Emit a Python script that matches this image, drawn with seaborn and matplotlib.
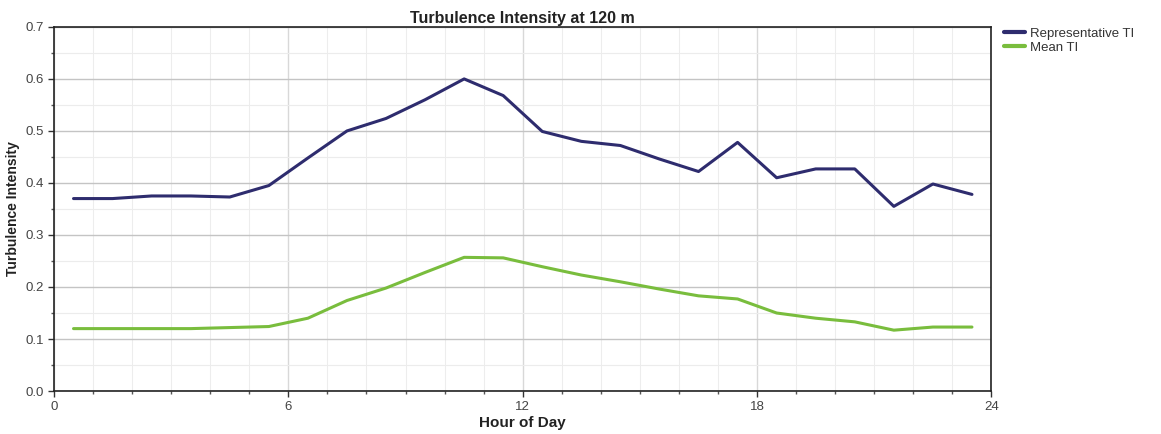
import numpy as np
import pandas as pd
import matplotlib
matplotlib.use("Agg")
import matplotlib.pyplot as plt
from matplotlib.ticker import MultipleLocator
import seaborn as sns

hours = [0.5, 1.5, 2.5, 3.5, 4.5, 5.5, 6.5, 7.5, 8.5, 9.5, 10.5, 11.5,
         12.5, 13.5, 14.5, 15.5, 16.5, 17.5, 18.5, 19.5, 20.5, 21.5, 22.5, 23.5]
representative_ti = [0.370, 0.370, 0.375, 0.375, 0.373, 0.395, 0.448, 0.500,
                     0.524, 0.560, 0.600, 0.568, 0.499, 0.480, 0.472, 0.446,
                     0.422, 0.478, 0.410, 0.427, 0.427, 0.355, 0.398, 0.378]
mean_ti = [0.120, 0.120, 0.120, 0.120, 0.122, 0.124, 0.140, 0.174,
           0.198, 0.228, 0.257, 0.256, 0.239, 0.223, 0.210, 0.196,
           0.183, 0.177, 0.150, 0.140, 0.133, 0.117, 0.123, 0.123]
series_names = ["Representative TI", "Mean TI"]
colors = ["#2e2c6e", "#79bd3d"]

df = pd.concat([
    pd.DataFrame({"Hour": hours, "TI": representative_ti, "Series": series_names[0]}),
    pd.DataFrame({"Hour": hours, "TI": mean_ti, "Series": series_names[1]}),
])

sns.set_style("white")
plt.rcParams["font.family"] = ["Liberation Sans Narrow", "Liberation Sans", "DejaVu Sans"]

fig = plt.figure(figsize=(11.61, 4.34), dpi=100)
ax = fig.add_axes([0.0465, 0.099, 0.8075, 0.839])

sns.lineplot(data=df, x="Hour", y="TI", hue="Series", palette=colors,
             hue_order=series_names, linewidth=2.2, ax=ax)

ax.set_xlim(0, 24)
ax.set_ylim(0, 0.7)
ax.xaxis.set_major_locator(MultipleLocator(6))
ax.xaxis.set_minor_locator(MultipleLocator(1))
ax.yaxis.set_major_locator(MultipleLocator(0.1))
ax.yaxis.set_minor_locator(MultipleLocator(0.05))
ax.yaxis.set_major_formatter(matplotlib.ticker.FormatStrFormatter("%.1f"))

ax.grid(which="major", axis="y", color="#c4c4c4", linewidth=1.0)
ax.grid(which="minor", axis="y", color="#ececec", linewidth=0.8)
ax.grid(which="major", axis="x", color="#d8d8d8", linewidth=1.0)
ax.grid(which="minor", axis="x", color="#ededed", linewidth=0.8)
ax.set_axisbelow(True)

for s in ax.spines.values():
    s.set_color("#222222")
    s.set_linewidth(1.2)

ax.tick_params(which="major", direction="out", length=4, width=1, color="#333333",
               labelsize=9.5, labelcolor="#444444", bottom=True, left=True)
ax.tick_params(which="minor", direction="out", length=2, width=1, color="#555555",
               bottom=True, left=True)

ax.set_title("Turbulence Intensity at 120 m", fontsize=11.5, fontweight="bold",
             color="#222222", pad=3)
ax.set_xlabel("Hour of Day", fontsize=11, fontweight="bold", color="#222222", labelpad=2)
ax.set_ylabel("Turbulence Intensity", fontsize=10, fontweight="bold", color="#222222", labelpad=4)

leg = ax.legend(loc="upper left", bbox_to_anchor=(1.005, 1.02), frameon=False,
                fontsize=9.5, handlelength=1.6, handletextpad=0.4, labelspacing=0.15,
                borderaxespad=0.2)
for line in leg.get_lines():
    line.set_linewidth(3)
for t in leg.get_texts():
    t.set_color("#333333")

fig.savefig("out.png", dpi=100)
